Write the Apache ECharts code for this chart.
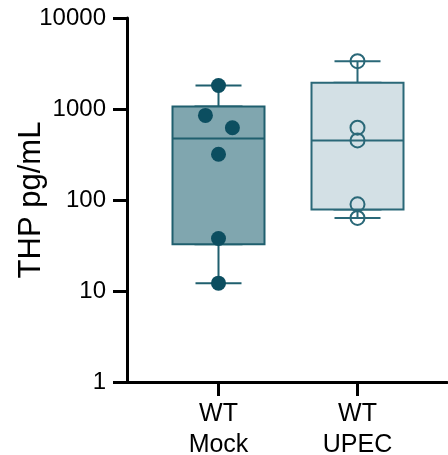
<!DOCTYPE html>
<html>
<head>
<meta charset="utf-8">
<script src="https://cdn.jsdelivr.net/npm/echarts@6/dist/echarts.min.js"></script>
<style>
html,body{margin:0;padding:0;background:#fff;}
#chart{width:448px;height:455px;}
</style>
</head>
<body>
<div id="chart"></div>
<script>
const categories = ['WT\nMock', 'WT\nUPEC'];
const yTickValues = [1, 10, 100, 1000, 10000];
const mockPoints = [1815, 851, 623, 318, 37.7, 12.2];
const upecPoints = [3357, 623, 452, 89.7, 63.5];
// [min, Q1, median, Q3, max]
const mockBox = [12.2, 32.6, 475, 1068, 1815];
const upecBox = [63.5, 78.5, 452, 1944, 3357];
const yAxisTitle = 'THP pg/mL';

const mockJitter = [0, -0.094, 0.1, 0, 0, 0];
const upecJitter = [0, 0, 0, 0, 0];

const FONT = 'Liberation Sans, Arial, sans-serif';
const chart = echarts.init(document.getElementById('chart'), null, {renderer: 'canvas'});

const yMin = yTickValues[0], yMax = yTickValues[yTickValues.length - 1];
const boxStyles = [
  {color: '#80a6af', borderColor: '#1f5f6e'},
  {color: '#d3e0e5', borderColor: '#2a6878'}
];
const boxes = [mockBox, upecBox];
// box part only (whiskers collapsed onto the box edges)
const boxOnly = boxes.map(b => [b[1], b[1], b[2], b[3], b[3]]);

chart.setOption({
  animation: false,
  backgroundColor: '#ffffff',
  grid: [
    {left: 127, right: 1, top: 18, bottom: 73, outerBoundsMode: 'none', containLabel: false},
    {left: 149, right: 21, top: 18, bottom: 73, outerBoundsMode: 'none', containLabel: false}
  ],
  xAxis: [
    {gridIndex: 0, type: 'value', min: 0, max: 1,
      axisLine: {show: true, lineStyle: {color: '#000', width: 3}},
      axisTick: {show: false}, axisLabel: {show: false}, splitLine: {show: false}},
    {gridIndex: 1, type: 'category', data: categories,
      axisLine: {show: false},
      axisTick: {show: true, alignWithLabel: true, length: 14, lineStyle: {color: '#000', width: 3}},
      axisLabel: {fontFamily: FONT, fontSize: 25, color: '#000', margin: 17, lineHeight: 31},
      splitLine: {show: false}},
    {gridIndex: 1, type: 'value', min: -0.5, max: 1.5, show: false},
    {gridIndex: 1, type: 'category', data: categories, show: false}
  ],
  yAxis: [
    {gridIndex: 0, type: 'log', logBase: 10, min: yMin, max: yMax,
      name: yAxisTitle, nameLocation: 'middle', nameGap: 80, nameMoveOverlap: false,
      nameTextStyle: {fontFamily: FONT, fontSize: 31, color: '#000'},
      axisLine: {show: true, lineStyle: {color: '#000', width: 3}},
      axisTick: {show: true, length: 14, lineStyle: {color: '#000', width: 3}},
      axisLabel: {fontFamily: FONT, fontSize: 24, color: '#000', margin: 21,
        formatter: v => String(Math.round(v))},
      splitLine: {show: false}, minorTick: {show: false}},
    {gridIndex: 1, type: 'log', logBase: 10, min: yMin, max: yMax, show: false}
  ],
  series: [
    {type: 'boxplot', xAxisIndex: 1, yAxisIndex: 1, boxWidth: [46, 46],
      data: boxes.map((b, i) => ({value: b, itemStyle: {color: 'rgba(0,0,0,0)', borderColor: boxStyles[i].borderColor, borderWidth: 2}})),
      z: 2},
    {type: 'boxplot', xAxisIndex: 3, yAxisIndex: 1, boxWidth: [92, 92],
      data: boxOnly.map((b, i) => ({value: b, itemStyle: {color: boxStyles[i].color, borderColor: boxStyles[i].borderColor, borderWidth: 2}})),
      z: 3},
    {type: 'scatter', xAxisIndex: 2, yAxisIndex: 1, symbol: 'circle', symbolSize: 15,
      itemStyle: {color: '#0c4e60', opacity: 1},
      data: mockPoints.map((v, i) => [0 + mockJitter[i], v]), z: 5},
    {type: 'scatter', xAxisIndex: 2, yAxisIndex: 1, symbol: 'circle', symbolSize: 14,
      itemStyle: {color: 'rgba(0,0,0,0)', borderColor: '#2a6878', borderWidth: 2, opacity: 1},
      data: upecPoints.map((v, i) => [1 + upecJitter[i], v]), z: 5}
  ]
});
</script>
</body>
</html>
